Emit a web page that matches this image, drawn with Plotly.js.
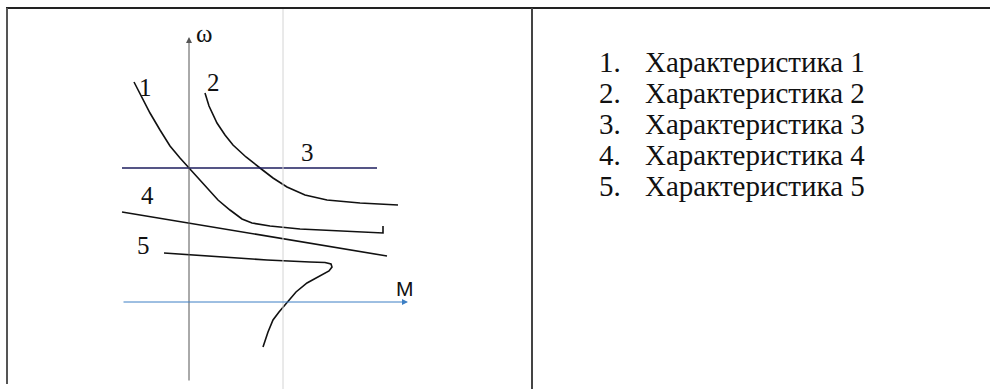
<!DOCTYPE html>
<html lang="ru">
<head>
<meta charset="UTF-8">
<title>Характеристики</title>
<script src="https://cdn.plot.ly/plotly-3.0.1.min.js"></script>
<style>
  html, body { margin: 0; padding: 0; background: #fff; }
  #chart { width: 990px; height: 389px; }
</style>
</head>
<body>
<div id="chart"></div>
<script>
// M to the right, omega up, origin where the two axes cross
const m1 = [-5.5, -4.8, -3.9, -2.9, -1.9, -0.9, 0, 1.1, 2.1, 2.9, 4.1, 5.3, 6.3, 8.1, 11.1, 15.1, 19.4, 19.4];
const w1 = [22.0, 20.6, 18.9, 17.2, 15.6, 14.4, 13.4, 12.1, 11.1, 10.2, 9.2, 8.3, 7.9, 7.6, 7.3, 7.1, 6.9, 7.6];

const m2 = [1.6, 2.0, 2.8, 3.6, 4.4, 5.7, 7.1, 8.4, 9.8, 11.6, 13.8, 17.1, 20.9];
const w2 = [20.9, 19.6, 17.9, 16.7, 15.7, 14.5, 13.4, 12.4, 11.5, 10.7, 10.2, 9.9, 9.7];

const m3 = [-6.7, 18.8];
const w3 = [13.4, 13.4];

const m4 = [-6.7, 19.8];
const w4 = [9.0, 4.6];

const m5 = [-2.5, 3.1, 7.8, 12.1, 13.6, 14.2, 14.3, 14.0, 13.1, 11.8, 10.7, 9.8, 9.0, 8.4, 7.9, 7.4];
const w5 = [4.9, 4.5, 4.2, 4.0, 3.95, 3.8, 3.5, 3.1, 2.6, 1.9, 1.0, 0, -1.0, -1.8, -3.0, -4.5];

// where the curve numbers sit
const curveNames = ['1', '2', '3', '4', '5'];
const nameM = [-4.4, 2.4, 11.8, -4.2, -4.6];
const nameW = [21.5, 22.0, 15.0, 10.7, 5.7];

const listItems = ['Характеристика 1', 'Характеристика 2', 'Характеристика 3', 'Характеристика 4', 'Характеристика 5'];

function line(x, y, color) {
  return { x: x, y: y, mode: 'lines', type: 'scatter', hoverinfo: 'skip',
           line: { color: color, width: 1.6 } };
}

const data = [
  line(m1, w1, '#111'),
  line(m2, w2, '#111'),
  line(m3, w3, '#1d1d5e'),
  line(m4, w4, '#111'),
  line(m5, w5, '#111')
];

// pixel -> paper helpers for the table frame and the list
const W = 990, H = 389;
const px = v => v / W;
const py = v => 1 - v / H;

const shapes = [
  // scan fold
  { type: 'line', xref: 'x', yref: 'paper', x0: 9.4, x1: 9.4, y0: 0, y1: py(8),
    line: { color: '#d4d4d4', width: 1 } },
  // table frame
  { type: 'line', xref: 'paper', yref: 'paper', x0: px(6), x1: 1, y0: py(8), y1: py(8),
    line: { color: '#222', width: 2 } },
  { type: 'line', xref: 'paper', yref: 'paper', x0: px(7), x1: px(7), y0: py(8), y1: py(384),
    line: { color: '#555', width: 2 } },
  { type: 'line', xref: 'paper', yref: 'paper', x0: px(532), x1: px(532), y0: py(8), y1: 0,
    line: { color: '#444', width: 2 } }
];

const annotations = [];

// the two axes with arrow heads
annotations.push({ x: 0, y: 26.5, ax: 0, ay: -8.0, xref: 'x', yref: 'y', axref: 'x', ayref: 'y',
  text: '', showarrow: true, arrowhead: 2, arrowsize: 1.2, arrowwidth: 1, arrowcolor: '#555' });
annotations.push({ x: 21.9, y: 0, ax: -6.7, ay: 0, xref: 'x', yref: 'y', axref: 'x', ayref: 'y',
  text: '', showarrow: true, arrowhead: 2, arrowsize: 1.2, arrowwidth: 1, arrowcolor: '#3d7fc4' });

annotations.push({ x: 1.5, y: 26.9, xref: 'x', yref: 'y', text: 'ω', showarrow: false,
  font: { family: 'Liberation Serif', size: 25, color: '#111' } });
annotations.push({ x: 21.6, y: 1.4, xref: 'x', yref: 'y', text: 'M', showarrow: false,
  font: { family: 'Liberation Sans', size: 21, color: '#111' } });

curveNames.forEach((t, i) => {
  annotations.push({ x: nameM[i], y: nameW[i], xref: 'x', yref: 'y', text: t, showarrow: false,
    font: { family: 'Liberation Serif', size: 25, color: '#111' } });
});

listItems.forEach((t, i) => {
  const y = py(62 + i * 31);
  annotations.push({ x: px(597), y: y, xref: 'paper', yref: 'paper', xanchor: 'left', yanchor: 'middle',
    text: (i + 1) + '.', showarrow: false, font: { family: 'Liberation Serif', size: 29, color: '#111' } });
  annotations.push({ x: px(643), y: y, xref: 'paper', yref: 'paper', xanchor: 'left', yanchor: 'middle',
    text: t, showarrow: false, font: { family: 'Liberation Serif', size: 29, color: '#111' } });
});

const layout = {
  width: W, height: H,
  margin: { l: 0, r: 0, t: 0, b: 0 },
  paper_bgcolor: '#fff', plot_bgcolor: '#fff',
  showlegend: false,
  xaxis: { range: [-18.9, 80.1], visible: false, fixedrange: true },
  yaxis: { range: [-8.7, 30.2], visible: false, fixedrange: true },
  shapes: shapes,
  annotations: annotations
};

Plotly.newPlot('chart', data, layout, { displayModeBar: false, staticPlot: true });
</script>
</body>
</html>
